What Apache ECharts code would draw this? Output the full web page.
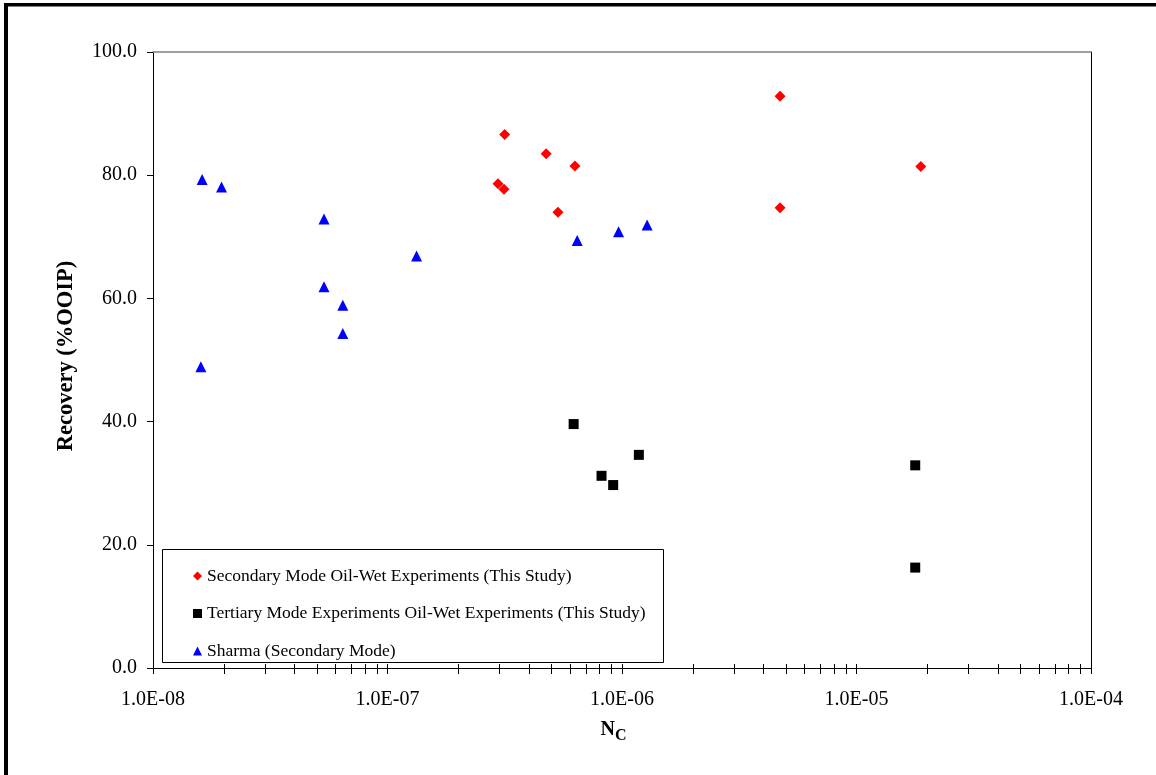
<!DOCTYPE html>
<html>
<head>
<meta charset="utf-8">
<script src="https://cdn.jsdelivr.net/npm/echarts@6/dist/echarts.min.js"></script>
<style>
  html, body { margin: 0; padding: 0; background: #ffffff; }
  #chart { width: 1156px; height: 775px; }
</style>
</head>
<body>
<div id="chart"></div>
<script>
// Capillary number (Nc) vs. oil recovery (%OOIP)
const secondaryNc  = [3.16e-7, 4.75e-7, 6.30e-7, 2.96e-7, 3.14e-7, 5.33e-7, 4.72e-6, 4.72e-6, 1.88e-5];
const secondaryRec = [86.6, 83.5, 81.5, 78.6, 77.7, 74.0, 92.8, 74.7, 81.4];

const tertiaryNc  = [6.22e-7, 1.18e-6, 8.18e-7, 9.17e-7, 1.78e-5, 1.78e-5];
const tertiaryRec = [39.6, 34.6, 31.2, 29.7, 32.9, 16.3];

const sharmaNc  = [1.62e-8, 1.96e-8, 5.36e-8, 1.33e-7, 5.36e-8, 6.45e-8, 6.45e-8, 1.60e-8, 6.44e-7, 9.67e-7, 1.28e-6];
const sharmaRec = [79.3, 78.1, 72.9, 66.9, 61.9, 58.9, 54.3, 48.9, 69.4, 70.8, 71.9];

const seriesNames = [
  'Secondary Mode Oil-Wet Experiments (This Study)',
  'Tertiary Mode Experiments Oil-Wet Experiments (This Study)',
  'Sharma (Secondary Mode)'
];

// x-axis decades and the 2..9 sub-ticks in between
const decadeExponents = [-8, -7, -6, -5, -4];
const xTickValues = [];
decadeExponents.forEach((e, i) => {
  xTickValues.push(Math.pow(10, e));
  if (i < decadeExponents.length - 1) {
    for (let k = 2; k <= 9; k++) xTickValues.push(k * Math.pow(10, e));
  }
});

const FONT = '"Liberation Serif", "Times New Roman", serif';
const pairs = (xs, ys) => xs.map((x, i) => [x, ys[i]]);

const chart = echarts.init(document.getElementById('chart'), null, { renderer: 'canvas' });

chart.setOption({
  animation: false,
  backgroundColor: '#ffffff',
  grid: { left: 153, right: 65, top: 52, bottom: 107, containLabel: false },
  xAxis: [
    {
      type: 'log', logBase: 10, min: 1e-8, max: 1e-4,
      axisLine: { show: true, onZero: false, lineStyle: { color: '#000', width: 1 } },
      axisTick: { show: false },
      splitLine: { show: false },
      axisLabel: {
        margin: 22, color: '#000', fontFamily: FONT, fontSize: 20,
        formatter: v => '1.0E-' + String(-Math.round(Math.log10(v))).padStart(2, '0')
      }
    },
    {
      type: 'log', logBase: 10, min: 1e-8, max: 1e-4, position: 'top',
      axisLine: { show: true, onZero: false, lineStyle: { color: '#808080', width: 1.5 } },
      axisTick: { show: false }, axisLabel: { show: false }, splitLine: { show: false }
    }
  ],
  yAxis: [
    {
      type: 'value', min: 0, max: 100, interval: 20,
      axisLine: { show: true, onZero: false, lineStyle: { color: '#000', width: 1 } },
      axisTick: { show: true, inside: false, length: 6, lineStyle: { color: '#000' } },
      splitLine: { show: false },
      axisLabel: {
        margin: 16, color: '#000', fontFamily: FONT, fontSize: 20,
        formatter: v => v.toFixed(1)
      }
    },
    {
      type: 'value', min: 0, max: 100, interval: 20, position: 'right',
      axisLine: { show: true, onZero: false, lineStyle: { color: '#000', width: 1 } },
      axisTick: { show: false }, axisLabel: { show: false }, splitLine: { show: false }
    }
  ],
  legend: {
    orient: 'vertical',
    left: 188, top: 561,
    itemWidth: 9, itemHeight: 9, itemGap: 17.5,
    data: seriesNames,
    textStyle: { color: '#000', fontFamily: FONT, fontSize: 17.5, lineHeight: 20 },
    z: 10
  },
  series: [
    {
      name: seriesNames[0], type: 'scatter', symbol: 'diamond', symbolSize: 11,
      itemStyle: { color: '#ff0000', opacity: 1 },
      data: pairs(secondaryNc, secondaryRec), z: 3
    },
    {
      name: seriesNames[1], type: 'scatter', symbol: 'rect', symbolSize: 10,
      itemStyle: { color: '#000000', opacity: 1 },
      data: pairs(tertiaryNc, tertiaryRec), z: 3
    },
    {
      name: seriesNames[2], type: 'scatter', symbol: 'triangle', symbolSize: [11, 11],
      itemStyle: { color: '#0000ff', opacity: 1 },
      data: pairs(sharmaNc, sharmaRec), z: 3
    },
    {
      // tick marks crossing the log x-axis
      type: 'custom', silent: true, clip: false, z: 5,
      data: xTickValues.map(v => [v, 0]),
      encode: { x: 0, y: 1 },
      renderItem: (params, api) => {
        const p = api.coord([api.value(0), api.value(1)]);
        const x = Math.round(p[0]) + 0.5;
        return {
          type: 'line',
          shape: { x1: x, y1: p[1] - 4, x2: x, y2: p[1] + 6 },
          style: { stroke: '#000', lineWidth: 1 }
        };
      }
    }
  ],
  graphic: [
    // outer frame (left and top bands)
    { type: 'rect', left: 4, top: 3, shape: { width: 4, height: 772 }, style: { fill: '#000' }, z: 100 },
    { type: 'rect', left: 4, top: 3, shape: { width: 1152, height: 3.5 }, style: { fill: '#000' }, z: 100 },
    // legend box
    {
      type: 'rect', left: 162, top: 549,
      shape: { x: 0, y: 0, width: 501, height: 113 },
      style: { fill: '#fff', stroke: '#000', lineWidth: 1 }, z: 1
    },
    // y-axis title
    {
      type: 'text', x: 66, y: 356, rotation: Math.PI / 2,
      style: {
        text: 'Recovery (%OOIP)', fill: '#000',
        font: 'bold 22.5px ' + FONT, align: 'center', verticalAlign: 'middle'
      }
    },
    // x-axis title N with subscript C
    {
      type: 'text', x: 615, y: 730,
      style: { text: 'N', fill: '#000', font: 'bold 20px ' + FONT, align: 'right', verticalAlign: 'middle' }
    },
    {
      type: 'text', x: 615, y: 736,
      style: { text: 'C', fill: '#000', font: 'bold 16px ' + FONT, align: 'left', verticalAlign: 'middle' }
    }
  ]
});
</script>
</body>
</html>
